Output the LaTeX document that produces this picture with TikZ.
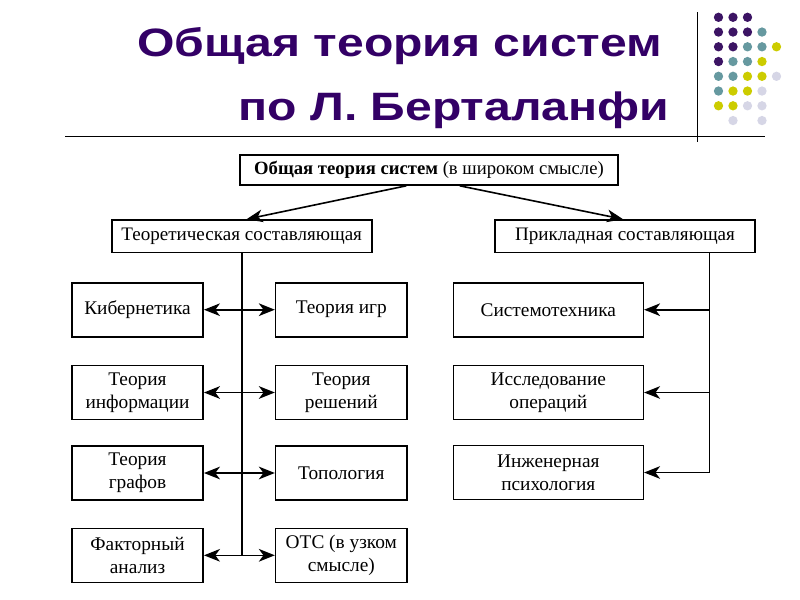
\documentclass[tikz,border=0pt]{standalone}
\usepackage{fontspec}
\setmainfont{Liberation Serif}
\newfontfamily\titlefont{Liberation Sans}
\usetikzlibrary{arrows.meta}

\definecolor{titlepurple}{RGB}{51,0,102}
\definecolor{dotpurple}{RGB}{60,20,100}
\definecolor{dotteal}{RGB}{102,153,160}
\definecolor{dotyellow}{RGB}{204,204,0}
\definecolor{dotlilac}{RGB}{214,214,230}

\newcommand{\widetitle}[1]{\scalebox{1.215}[1]{#1}}

\tikzset{every picture/.style={line width=0.75pt}}
\tikzset{
  headbox/.style={draw, line width=1.2pt, inner sep=0pt, align=center, minimum width=283.5pt, minimum height=22.5pt, font=\fontsize{14}{16.8}\selectfont},
  partbox/.style={draw, line width=1.2pt, inner sep=0pt, align=center, minimum width=195pt, minimum height=24.5pt, font=\fontsize{14.3}{17}\selectfont},
  itembox/.style={draw, line width=1.2pt, inner sep=0pt, align=center, minimum width=98.5pt, minimum height=40.5pt, font=\fontsize{14.5}{17.2}\selectfont},
  wideitem/.style={itembox, minimum width=142.5pt},
  tip/.style={line width=1.2pt, -{Stealth[length=12pt,width=9.5pt,inset=3.5pt]}},
  tiptwo/.style={line width=1.2pt, {Stealth[length=12pt,width=9.5pt,inset=3.5pt]}-{Stealth[length=12pt,width=9.5pt,inset=3.5pt]}},
  slidetitle/.style={anchor=base west, inner sep=0pt, text=titlepurple, font=\titlefont\bfseries\fontsize{29.7}{35}\selectfont},
}

\begin{document}
\begin{tikzpicture}[x=0.75pt,y=0.75pt,yscale=-1,xscale=1]
\useasboundingbox (0,0) rectangle (800,600);

% Title
\node [slidetitle] (ttl1) at (136.7,56.7) {\widetitle{Общая теория систем}};
\node [slidetitle] (ttl2) at (238,120) {\widetitle{по Л. Берталанфи}};

%Straight Lines
\draw (65,136) -- (765,136) ;
\draw (697.7,12) -- (697.7,142) ;

% Dots
\foreach \c/\r/\col in {1/1/dotpurple,2/1/dotpurple,3/1/dotpurple,
    1/2/dotpurple,2/2/dotpurple,3/2/dotpurple,4/2/dotteal,
    1/3/dotpurple,2/3/dotpurple,3/3/dotteal,4/3/dotteal,5/3/dotyellow,
    1/4/dotpurple,2/4/dotteal,3/4/dotteal,4/4/dotyellow,
    1/5/dotteal,2/5/dotteal,3/5/dotyellow,4/5/dotyellow,5/5/dotlilac,
    1/6/dotteal,2/6/dotyellow,3/6/dotyellow,4/6/dotlilac,
    1/7/dotyellow,2/7/dotyellow,3/7/dotlilac,4/7/dotlilac,
    2/8/dotlilac,4/8/dotlilac}
  \fill [\col] ({704+14.5*\c},{2.55+14.75*\r}) circle [radius=3.5pt];

% Text Node
\node [headbox] (ots) at (429,170) {\textbf{Общая теория систем} (в широком смысле)};
\node [partbox] (theo) at (241.7,236.3) {Теоретическая составляющая};
\node [partbox] (prik) at (625,236.3) {Прикладная составляющая};

% left column
\node [itembox] (kib) at (137.5,309.7) {Кибернетика};
\node [itembox] (inf) at (137.5,392.5) {Теория\\информации};
\node [itembox] (graf) at (137.5,473) {Теория\\графов};
\node [itembox] (fakt) at (137.5,555.3) {Факторный\\анализ};
% middle column
\node [itembox] (igr) at (341.3,309.7) {Теория игр};
\node [itembox] (resh) at (341.3,392.5) {Теория\\решений};
\node [itembox] (topo) at (341.3,473) {Топология};
\node [itembox] (uzk) at (341.3,555.3) {ОТС (в узком\\смысле)};
% right column
\node [wideitem] (stech) at (548.3,309.7) {Системотехника};
\node [wideitem] (isop) at (548.3,392.5) {Исследование\\операций};
\node [wideitem] (psih) at (548.3,472.5) {Инженерная\\психология};

%Arrows
\draw [tip] ([xshift=-17pt]ots.south) -- ([xshift=3.75pt]theo.north) ;
\draw [tip] ([xshift=23pt]ots.south) -- ([xshift=-1.5pt]prik.north) ;

\draw [line width=1.2pt] (theo.south) -- (theo.south |- fakt.east) ;
\draw [tiptwo] (kib.east) -- (igr.west) ;
\draw [tiptwo] (inf.east) -- (resh.west) ;
\draw [tiptwo] (graf.east) -- (topo.west) ;
\draw [tiptwo] (fakt.east) -- (uzk.west) ;

\coordinate (rtop) at (709.3,252.7) ;
\coordinate (rbot) at (709.3,472.5) ;
\draw [line width=1.2pt] (rtop) -- (rbot) ;
\draw [tip] (rtop |- stech.east) -- (stech.east) ;
\draw [tip] (rtop |- isop.east) -- (isop.east) ;
\draw [tip] (rbot) -- (psih.east) ;

\end{tikzpicture}
\end{document}
